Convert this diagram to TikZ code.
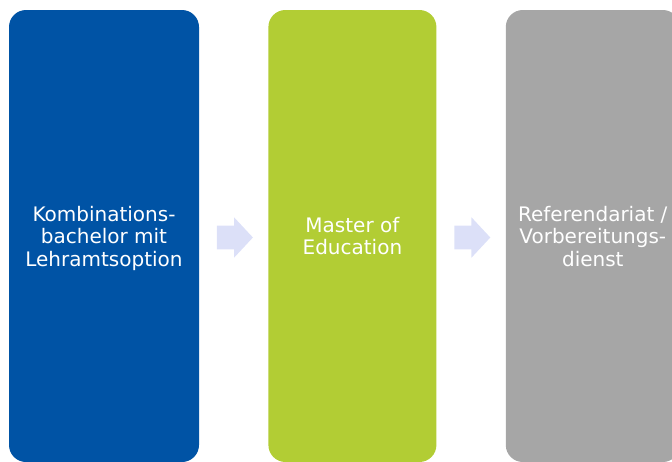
\documentclass[tikz,border=0pt]{standalone}
\usepackage{fontspec}
\setmainfont{DejaVu Sans}
\usetikzlibrary{positioning,shapes.arrows}

\definecolor{uniblue}{RGB}{0,83,165}
\definecolor{unigreen}{RGB}{178,205,52}
\definecolor{unigray}{RGB}{166,166,166}
\definecolor{arrowfill}{RGB}{220,224,248}

\begin{document}
\begin{tikzpicture}[x=1pt,y=-1pt,node distance=69pt]
  \tikzstyle{phase}=[rectangle,rounded corners=17pt,minimum height=452pt,inner sep=0pt,
    text=white,align=center,text depth=0pt,font=\fontsize{20}{22.4}\selectfont]
  \tikzstyle{flowarrow}=[single arrow,fill=arrowfill,inner xsep=0pt,inner ysep=11.7pt,
    minimum height=36pt,single arrow head extend=8.3pt,single arrow tip angle=94,yshift=-1.5pt]

  \useasboundingbox (0,0) rectangle (672,461);

  \node[phase,fill=uniblue,minimum width=190pt] (bachelor) at (104,236) {Kombinations-\\bachelor mit\\Lehramtsoption};
  \node[phase,fill=unigreen,minimum width=168pt] (master) [right=of bachelor] {Master of\\Education};
  \node[phase,fill=unigray,minimum width=174pt] (referendariat) [right=of master] {Referendariat /\\Vorbereitungs-\\dienst};

  \node[flowarrow] (toMaster) [right=17.5pt of bachelor] {};
  \node[flowarrow] (toRef) [right=17.5pt of master] {};

\end{tikzpicture}
\end{document}
